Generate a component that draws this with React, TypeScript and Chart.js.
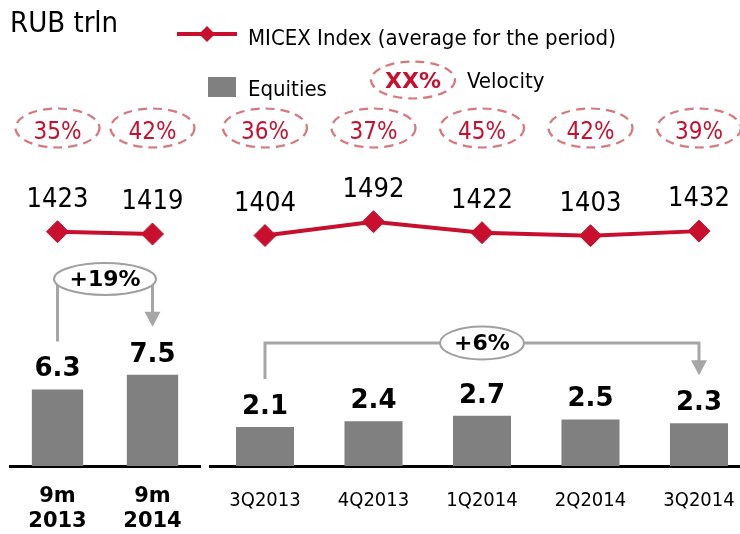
import React, { useEffect, useRef } from 'react';
import { Chart, registerables } from 'chart.js';

Chart.register(...registerables);

// ---------- data ----------
const periodLabels9m = [['9m', '2013'], ['9m', '2014']];
const quarterLabels = ['3Q2013', '4Q2013', '1Q2014', '2Q2014', '3Q2014'];
const equities9m = [6.3, 7.5];
const equitiesQuarterly = [2.1, 2.4, 2.7, 2.5, 2.3];
const micex9m = [1423, 1419];
const micexQuarterly = [1404, 1492, 1422, 1403, 1432];
const velocity9m = [35, 42];
const velocityQuarterly = [36, 37, 45, 42, 39];
const growth9m = '+19%';
const growthQuarterly = '+6%';
const titleText = 'RUB trln';
const legendLine = 'MICEX Index (average for the period)';
const legendBars = 'Equities';
const legendVelocity = 'Velocity';
const legendVelocitySample = 'XX%';

// ---------- styles ----------
const RED = '#C8102E';
const DASH_RED = '#D8777C';
const BAR_GRAY = '#808080';
const ARROW_GRAY = '#A6A6A6';
const REG = "'DejaVu Sans Condensed', 'Liberation Sans', sans-serif";
const BOLD = "'DejaVu Sans', 'Liberation Sans', sans-serif";

function dashedEllipse(ctx: CanvasRenderingContext2D, cx: number, cy: number, rx: number, ry: number) {
  ctx.save();
  ctx.beginPath();
  ctx.ellipse(cx, cy, rx, ry, 0, 0, Math.PI * 2);
  ctx.setLineDash([9, 6]);
  ctx.lineWidth = 2.2;
  ctx.strokeStyle = DASH_RED;
  ctx.stroke();
  ctx.restore();
}

function txt(
  ctx: CanvasRenderingContext2D,
  s: string,
  x: number,
  y: number,
  font: string,
  color: string,
  align: CanvasTextAlign = 'center',
  baseline: CanvasTextBaseline = 'alphabetic'
) {
  ctx.save();
  ctx.font = font;
  ctx.fillStyle = color;
  ctx.textAlign = align;
  ctx.textBaseline = baseline;
  ctx.fillText(s, x, y);
  ctx.restore();
}

function drawGrowth(
  ctx: CanvasRenderingContext2D,
  xa: number,
  ya: number,
  xb: number,
  yb: number,
  yLine: number,
  label: string,
  rx: number,
  ry: number
) {
  const headH = 15;
  const headW = 8;
  ctx.save();
  ctx.strokeStyle = ARROW_GRAY;
  ctx.lineWidth = 3;
  ctx.beginPath();
  ctx.moveTo(xa, ya);
  ctx.lineTo(xa, yLine);
  ctx.lineTo(xb, yLine);
  ctx.lineTo(xb, yb - headH + 1);
  ctx.stroke();
  ctx.fillStyle = ARROW_GRAY;
  ctx.beginPath();
  ctx.moveTo(xb - headW, yb - headH);
  ctx.lineTo(xb + headW, yb - headH);
  ctx.lineTo(xb, yb);
  ctx.closePath();
  ctx.fill();
  const cx = (xa + xb) / 2;
  ctx.beginPath();
  ctx.ellipse(cx, yLine, rx, ry, 0, 0, Math.PI * 2);
  ctx.fillStyle = '#fff';
  ctx.fill();
  ctx.lineWidth = 2;
  ctx.strokeStyle = '#A0A0A0';
  ctx.stroke();
  ctx.restore();
  txt(ctx, label, cx, yLine + 1, `bold 22px ${BOLD}`, '#000', 'center', 'middle');
}

function drawLegend(ctx: CanvasRenderingContext2D) {
  txt(ctx, titleText, 10, 32, `29px ${REG}`, '#000', 'left');
  // line legend
  ctx.save();
  ctx.strokeStyle = RED;
  ctx.lineWidth = 4;
  ctx.beginPath();
  ctx.moveTo(177, 34);
  ctx.lineTo(237, 34);
  ctx.stroke();
  ctx.fillStyle = RED;
  ctx.beginPath();
  ctx.moveTo(207, 26);
  ctx.lineTo(215, 34);
  ctx.lineTo(207, 42);
  ctx.lineTo(199, 34);
  ctx.closePath();
  ctx.fill();
  // bar legend
  ctx.fillStyle = BAR_GRAY;
  ctx.fillRect(208, 77, 28, 20);
  ctx.restore();
  txt(ctx, legendLine, 248, 45, `22px ${REG}`, '#000', 'left');
  txt(ctx, legendBars, 248, 96, `22px ${REG}`, '#000', 'left');
  dashedEllipse(ctx, 413, 80, 42, 18.5);
  txt(ctx, legendVelocitySample, 413, 88, `bold 22px ${BOLD}`, RED);
  txt(ctx, legendVelocity, 467, 88, `22px ${REG}`, '#000', 'left');
}

type PanelCfg = {
  labels: any[];
  bars: number[];
  line: number[];
  velocity: number[];
  growth: string;
  yMax: number;
  y1Min: number;
  y1Max: number;
  padLeft: number;
  padRight: number;
  tickFont: any;
  tickPadding: number;
  barPct: number;
  growthY: number;
  growthRx: number;
  growthRy: number;
  legend: boolean;
};

function makeChart(canvas: HTMLCanvasElement, cfg: PanelCfg) {
  const overlay = {
    id: 'overlay' + (cfg.legend ? 'R' : 'L'),
    afterDatasetsDraw(chart: any) {
      const ctx: CanvasRenderingContext2D = chart.ctx;
      const barEls = chart.getDatasetMeta(0).data;
      const lineEls = chart.getDatasetMeta(1).data;
      // bar value labels
      barEls.forEach((el: any, i: number) => {
        txt(ctx, cfg.bars[i].toFixed(1), el.x, el.y - 13, `bold 26px ${BOLD}`, '#000');
      });
      // line value labels
      lineEls.forEach((el: any, i: number) => {
        txt(ctx, String(cfg.line[i]), el.x, el.y - 25, `27px ${REG}`, '#000');
      });
      // velocity
      barEls.forEach((el: any, i: number) => {
        dashedEllipse(ctx, el.x, 128, 42, 19.5);
        txt(ctx, cfg.velocity[i] + '%', el.x, 138.5, `24px ${REG}`, RED);
      });
      // growth annotation
      const first = barEls[0];
      const last = barEls[barEls.length - 1];
      drawGrowth(ctx, first.x, first.y - 48, last.x, last.y - 48, cfg.growthY, cfg.growth, cfg.growthRx, cfg.growthRy);
      if (cfg.legend) drawLegend(ctx);
    },
  };

  return new Chart(canvas, {
    type: 'bar',
    data: {
      labels: cfg.labels,
      datasets: [
        {
          type: 'bar',
          data: cfg.bars,
          backgroundColor: BAR_GRAY,
          borderWidth: 0,
          barPercentage: cfg.barPct,
          categoryPercentage: 1,
          yAxisID: 'y',
          order: 2,
        },
        {
          type: 'line',
          data: cfg.line,
          borderColor: RED,
          backgroundColor: RED,
          borderWidth: 4,
          pointStyle: 'rectRot',
          pointRadius: 11,
          pointBackgroundColor: RED,
          pointBorderColor: RED,
          pointBorderWidth: 1,
          tension: 0,
          clip: false,
          yAxisID: 'y1',
          order: 1,
        } as any,
      ],
    },
    options: {
      responsive: false,
      animation: false,
      events: [],
      layout: { autoPadding: false, padding: { left: cfg.padLeft, right: cfg.padRight, top: 0, bottom: 0 } },
      plugins: { legend: { display: false }, tooltip: { enabled: false } },
      scales: {
        x: {
          type: 'category',
          offset: true,
          grid: { display: false, drawTicks: false },
          border: { display: true, color: '#000', width: 3 },
          ticks: {
            color: '#000',
            font: cfg.tickFont,
            padding: cfg.tickPadding,
            autoSkip: false,
            maxRotation: 0,
            minRotation: 0,
          },
          afterFit: (s: any) => {
            s.height = 68;
          },
        },
        y: { display: false, min: 0, max: cfg.yMax },
        y1: { display: false, min: cfg.y1Min, max: cfg.y1Max },
      },
    } as any,
    plugins: [overlay],
  });
}

export default function App() {
  const leftRef = useRef<HTMLCanvasElement>(null);
  const rightRef = useRef<HTMLCanvasElement>(null);

  useEffect(() => {
    const left = makeChart(leftRef.current!, {
      labels: periodLabels9m,
      bars: equities9m,
      line: micex9m,
      velocity: velocity9m,
      growth: growth9m,
      yMax: 38.35,
      y1Min: 1015.5,
      y1Max: 1826,
      padLeft: 10,
      padRight: 20,
      tickFont: { family: BOLD, size: 21, weight: 'bold', lineHeight: 1.2 },
      tickPadding: 18,
      barPct: 0.54,
      growthY: 279,
      growthRx: 51,
      growthRy: 16,
      legend: false,
    });
    const right = makeChart(rightRef.current!, {
      labels: quarterLabels,
      bars: equitiesQuarterly,
      line: micexQuarterly,
      velocity: velocityQuarterly,
      growth: growthQuarterly,
      yMax: 25.05,
      y1Min: -63.9,
      y1Max: 2904,
      padLeft: 210.75,
      padRight: 11.75,
      tickFont: { family: REG, size: 20, lineHeight: 1.2 },
      tickPadding: 23,
      barPct: 0.535,
      growthY: 343,
      growthRx: 42,
      growthRy: 16.5,
      legend: true,
    });
    return () => {
      left.destroy();
      right.destroy();
    };
  }, []);

  return (
    <div
      style={{
        position: 'fixed',
        left: 0,
        top: 0,
        width: 740,
        height: 534,
        overflow: 'hidden',
        background: '#fff',
      }}
    >
      <canvas ref={leftRef} width={220} height={534} style={{ position: 'absolute', left: 0, top: 0 }} />
      <canvas ref={rightRef} width={765} height={534} style={{ position: 'absolute', left: 0, top: 0 }} />
    </div>
  );
}
